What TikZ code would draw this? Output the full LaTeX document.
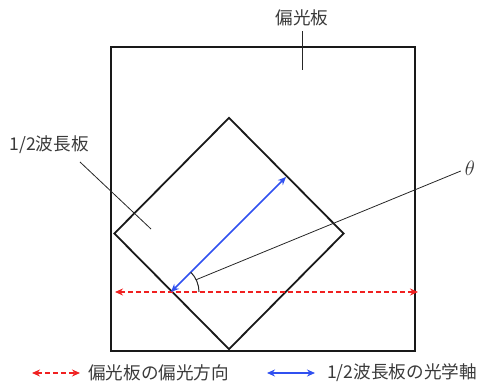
\documentclass[tikz,border=0pt]{standalone}
\usepackage{fontspec}
\setmainfont{Noto Sans CJK JP}
\usetikzlibrary{shapes.geometric,arrows.meta}
\definecolor{txt}{HTML}{3A3A3A}
\definecolor{axisblue}{HTML}{3050F0}
\definecolor{polred}{HTML}{F02020}
\tikzset{
  plate/.style={draw=black!90,line width=1.8pt,inner sep=0pt},
  lbl/.style={text=txt,font=\fontsize{17.6}{19}\selectfont,inner sep=0pt},
  leader/.style={draw=black!85,line width=0.8pt},
  polline/.style={draw=polred,line width=1.6pt,dash pattern=on 5pt off 3pt,{Stealth[length=8pt,width=7pt]}-{Stealth[length=8pt,width=7pt]}},
  axisline/.style={draw=axisblue,line width=1.6pt,{Stealth[length=8pt,width=7pt]}-{Stealth[length=8pt,width=7pt]}},
}
\begin{document}
\begin{tikzpicture}[x=1pt,y=1pt]
\useasboundingbox (0,0) rectangle (479,383);
% outer polarizer plate
\node[plate,rectangle,minimum width=304pt,minimum height=304pt] (pol) at (263,184) {};
% half-wave plate
\node[plate,diamond,minimum width=230pt,minimum height=232pt] (hwp) at (229,149.5) {};
% polarization direction
\coordinate (pl) at (115,91);
\coordinate (pr) at (418,91);
\draw[polline] (pl) -- (pr);
% optical axis
\coordinate (ax0) at (171,91);
\coordinate (ax1) at (286,206);
\draw[axisline] (ax0) -- (ax1);
% angle arc
\draw[leader,line width=1pt] ([shift={(0:28)}]ax0) arc[start angle=0,end angle=45,radius=28];
\coordinate (arcp) at ([shift={(26:28)}]ax0);
% labels
\node[lbl] (tpol) at (302,365) {偏光板};
\coordinate (tpolend) at (302,313);
\draw[leader] ([yshift=-5pt]tpol.south) -- (tpolend);
\node[lbl] (thwp) at (49,238) {1/2波長板};
\coordinate (thwpend) at (151,154);
\draw[leader] (80,221) -- (thwpend);
\node[text=txt,font=\fontsize{20}{22}\selectfont,inner sep=0pt] (theta) at (470,215) {$\theta$};
\draw[leader] (arcp) -- ([xshift=-4pt,yshift=-3pt]theta.west);
% legend
\coordinate (lr0) at (32,10);
\coordinate (lr1) at (80,10);
\draw[polline] (lr0) -- (lr1);
\node[lbl,anchor=west] (legred) at (88,10) {偏光板の偏光方向};
\coordinate (lb0) at (267,10);
\coordinate (lb1) at (315,10);
\draw[axisline] (lb0) -- (lb1);
\node[lbl,anchor=west] (legblue) at (327,10) {1/2波長板の光学軸};
\end{tikzpicture}
\end{document}
